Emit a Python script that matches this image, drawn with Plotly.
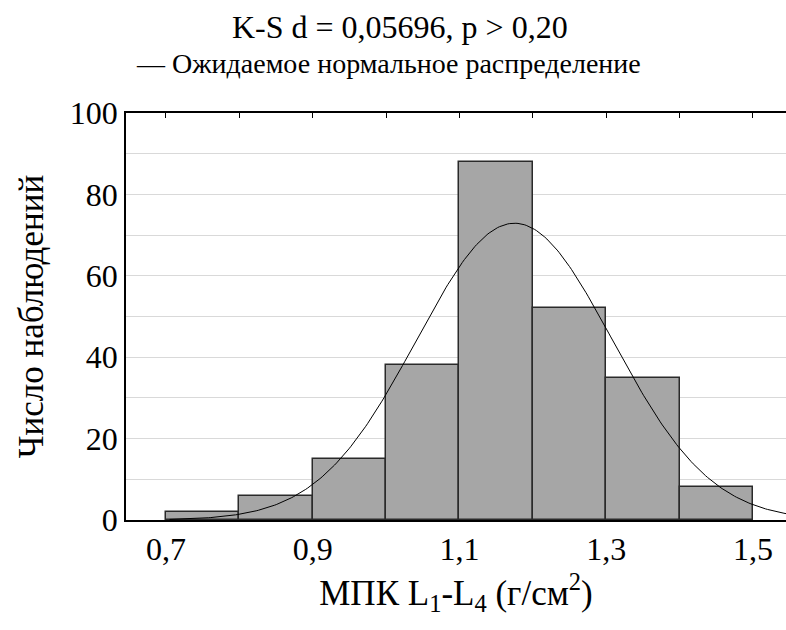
import numpy as np
import plotly.graph_objects as go

# Data
bin_left = [0.7, 0.8, 0.9, 1.0, 1.1, 1.2, 1.3, 1.4]
counts = [2, 6, 15, 38, 88, 52, 35, 8]
bin_width = 0.1
x_ticks = [0.7, 0.9, 1.1, 1.3, 1.5]
x_ticktext = ["0,7", "0,9", "1,1", "1,3", "1,5"]
y_ticks = [0, 20, 40, 60, 80, 100]

# Expected normal distribution parameters (estimated from the curve)
n_obs = sum(counts)
mean_est = 1.175
sd_est = 0.1335
curve_start, curve_end = 0.705, 1.545

centers = [b + bin_width / 2 for b in bin_left]
xc = np.linspace(curve_start, curve_end, 300)
yc = n_obs * bin_width / (sd_est * np.sqrt(2 * np.pi)) * np.exp(-0.5 * ((xc - mean_est) / sd_est) ** 2)

FONT = "Liberation Serif"
fs = 32

fig = go.Figure()
fig.add_trace(go.Bar(
    x=centers, y=counts, width=bin_width,
    marker=dict(color="#a6a6a6", line=dict(color="#2a2a2a", width=1.5)),
    showlegend=False,
))
fig.add_trace(go.Scatter(
    x=xc, y=yc, mode="lines", line=dict(color="black", width=1),
    showlegend=False,
))
# invisible trace on top axis for top ticks
fig.add_trace(go.Scatter(x=[0.7], y=[0], xaxis="x2", mode="markers",
                         marker=dict(opacity=0), showlegend=False, hoverinfo="skip"))

xr = [0.6456, 1.545]
fig.update_layout(
    width=786, height=630,
    margin=dict(l=126, r=0, t=113, b=110),
    paper_bgcolor="white", plot_bgcolor="white",
    font=dict(family=FONT, size=fs, color="black"),
    bargap=0,
    xaxis=dict(
        range=xr, tickvals=x_ticks, ticktext=x_ticktext,
        showgrid=False, showline=True, linecolor="black", linewidth=1.5,
        ticks="", zeroline=False,
        tickfont=dict(family=FONT, size=fs),
        title=dict(text="МПК L<sub>1</sub>-L<sub>4</sub> (г/см<sup>2</sup>)",
                   font=dict(family=FONT, size=35), standoff=14),
    ),
    xaxis2=dict(
        range=xr, overlaying="x", side="top", matches="x",
        tickmode="linear", tick0=0.7, dtick=0.1, ticks="inside", ticklen=5,
        tickcolor="black", showticklabels=False, showgrid=False,
        showline=True, linecolor="black", linewidth=1.5, zeroline=False,
    ),
    yaxis=dict(
        range=[0, 100], tickvals=y_ticks,
        showgrid=True, gridcolor="#d9d9d9", gridwidth=1,
        minor=dict(dtick=10, showgrid=True, gridcolor="#d9d9d9", gridwidth=1),
        showline=True, linecolor="black", linewidth=1.5,
        ticks="", zeroline=False,
        tickfont=dict(family=FONT, size=fs),
        title=dict(text="Число наблюдений", font=dict(family=FONT, size=35), standoff=16),
    ),
    annotations=[
        dict(text="K-S d = 0,05696, p > 0,20", xref="paper", yref="paper",
             x=0.415, y=1.211, xanchor="center", yanchor="middle", showarrow=False,
             font=dict(family=FONT, size=fs)),
        dict(text="— Ожидаемое нормальное распределение", xref="paper", yref="paper",
             x=0.397, y=1.122, xanchor="center", yanchor="middle", showarrow=False,
             font=dict(family=FONT, size=28)),
    ],
)
fig.write_html("out.html")
